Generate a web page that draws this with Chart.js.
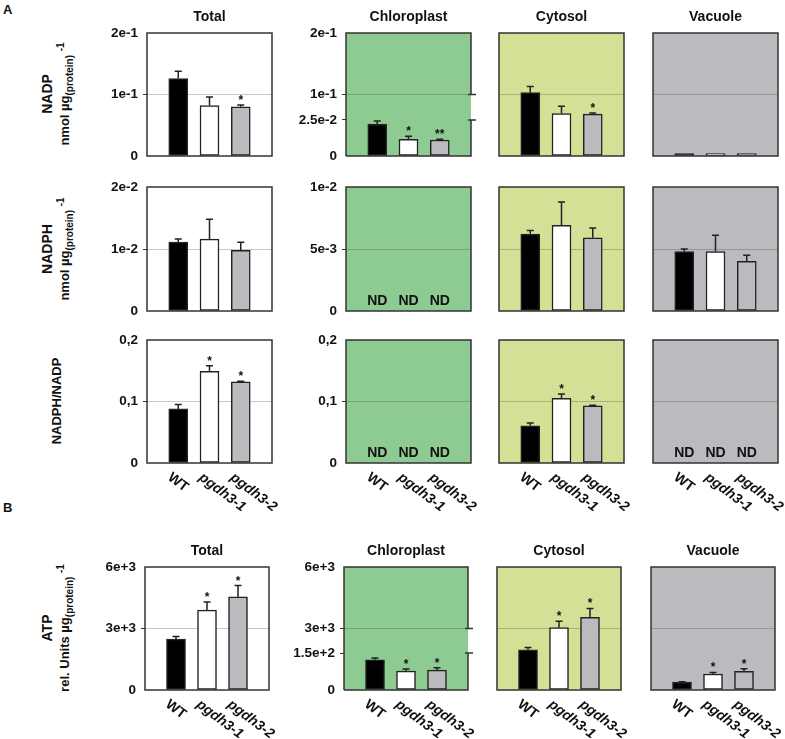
<!DOCTYPE html>
<html>
<head>
<meta charset="utf-8">
<script src="https://cdn.jsdelivr.net/npm/chart.js@4.4.1/dist/chart.umd.min.js"></script>
<style>
  body { margin: 0; background: #fff; font-family: "Liberation Sans", Arial, sans-serif; }
  #fig { position: relative; width: 785px; height: 739px; overflow: hidden; }
  #fig canvas { position: absolute; }
  .letter { position: absolute; font-weight: bold; font-size: 13px; color: #111; }
  .ylab { position: absolute; width: 170px; text-align: center; transform: rotate(-90deg);
          font-weight: bold; font-size: 13px; line-height: 18px; color: #111; white-space: nowrap; }
  .ylab .big { font-size: 14px; }
  .ylab sub, .ylab sup { font-size: 10px; line-height: 0; }
</style>
</head>
<body>
<div id="fig">
  <div class="letter" style="left:3px;top:2px">A</div>
  <div class="letter" style="left:3px;top:500px">B</div>

  <div class="ylab" style="left:-29px;top:76px;height:36px">
    <div class="big">NADP</div>
    <div>nmol µg<sub>(protein)</sub> <sup>-1</sup></div>
  </div>
  <div class="ylab" style="left:-29px;top:231px;height:36px">
    <div class="big">NADPH</div>
    <div>nmol µg<sub>(protein)</sub> <sup>-1</sup></div>
  </div>
  <div class="ylab" style="left:-28px;top:392px;height:18px">
    <div>NADPH/NADP</div>
  </div>
  <div class="ylab" style="left:-29px;top:610px;height:36px">
    <div class="big">ATP</div>
    <div>rel. Units µg<sub>(protein)</sub> <sup>-1</sup></div>
  </div>
</div>

<script>
// ------------------- DATA -------------------
const genotypes = ['WT', 'pgdh3-1', 'pgdh3-2'];
const compartments = ['Total', 'Chloroplast', 'Cytosol', 'Vacuole'];

// NADP, nmol per µg protein (mean, SD, significance)
const nadpTotal = [0.126, 0.082, 0.080];
const nadpTotalSd = [0.012, 0.014, 0.003];
const nadpTotalSig = ['', '', '*'];
const nadpChloro = [0.0222, 0.0116, 0.0111];
const nadpChloroSd = [0.0021, 0.0021, 0.0005];
const nadpChloroSig = ['', '*', '**'];
const nadpCyto = [0.103, 0.069, 0.068];
const nadpCytoSd = [0.010, 0.012, 0.002];
const nadpCytoSig = ['', '', '*'];
const nadpVac = [0.004, 0.004, 0.004];
const nadpVacSd = [0, 0, 0];

// NADPH, nmol per µg protein
const nadphTotal = [0.0111, 0.0116, 0.0098];
const nadphTotalSd = [0.0005, 0.0032, 0.0013];
const nadphChloro = [null, null, null]; // ND
const nadphCyto = [0.0062, 0.0069, 0.0059];
const nadphCytoSd = [0.0003, 0.0019, 0.0008];
const nadphVac = [0.0048, 0.0048, 0.0040];
const nadphVacSd = [0.0002, 0.0013, 0.0005];

// NADPH/NADP ratio
const ratioTotal = [0.088, 0.149, 0.132];
const ratioTotalSd = [0.007, 0.009, 0.001];
const ratioChloro = [null, null, null]; // ND
const ratioCyto = [0.0605, 0.105, 0.093];
const ratioCytoSd = [0.0045, 0.007, 0.001];
const ratioVac = [null, null, null]; // ND
const ratioSig = ['', '*', '*'];

// ATP, rel. units per µg protein
const atpTotal = [2480, 3900, 4540];
const atpTotalSd = [125, 390, 555];
const atpChloro = [123, 77, 81];
const atpChloroSd = [7, 8, 9];
const atpCyto = [1960, 3040, 3545];
const atpCytoSd = [110, 310, 435];
const atpVac = [390, 780, 905];
const atpVacSd = [15, 75, 130];
const atpSig = ['', '*', '*'];

// y ticks
const nadpTicks = [0, 0.1, 0.2];
const nadpTickLabels = ['0', '1e-1', '2e-1'];
const nadpChloroTicks = [0, 0.025, 0.1, 0.2];
const nadpChloroTickLabels = ['0', '2.5e-2', '1e-1', '2e-1'];
const nadphTotalTicks = [0, 0.01, 0.02];
const nadphTotalTickLabels = ['0', '1e-2', '2e-2'];
const nadphTicks = [0, 0.005, 0.01];
const nadphTickLabels = ['0', '5e-3', '1e-2'];
const ratioTicks = [0, 0.1, 0.2];
const ratioTickLabels = ['0', '0,1', '0,2'];
const atpTicks = [0, 3000, 6000];
const atpTickLabels = ['0', '3e+3', '6e+3'];
const atpChloroTicks = [0, 150, 3000, 6000];
const atpChloroTickLabels = ['0', '1.5e+2', '3e+3', '6e+3'];

// ------------------- LAYOUT / STYLE -------------------
const PADL = 62, PADT = 30, PADR = 24, PADB = 60;
const rowTop = [33, 187, 340, 567];
const rowH = [123, 124, 123, 123];
const colLeft = [[147, 346, 499, 653], [147, 346, 499, 653], [147, 346, 499, 653], [145, 344, 497, 651]];
const colW = [125, 125, 125, 124];
const panelBg = ['#ffffff', '#8dcb93', '#d6df96', '#b9bbbe'];
const barColors = ['#000000', '#ffffff', '#b9bbbe'];
const gridColor = 'rgba(70,70,70,0.3)';
const frameColor = '#333';
const FONT = '"Liberation Sans", Arial, sans-serif';

Chart.defaults.font.family = FONT;

// piecewise linear scale for the broken chloroplast axes
class BrokenScale extends Chart.LinearScale {
    getPixelForValue(value) {
        const v = this.breakValues, f = this.breakFrac;
        if (!v) return super.getPixelForValue(value);
        let frac = 0;
        for (let i = 1; i < v.length; i++) {
            if (value <= v[i] || i === v.length - 1) {
                frac = f[i - 1] + (value - v[i - 1]) / (v[i] - v[i - 1]) * (f[i] - f[i - 1]);
                break;
            }
        }
        return this.bottom - frac * (this.bottom - this.top);
    }
}
BrokenScale.id = 'broken';
BrokenScale.defaults = Chart.LinearScale.defaults;
Chart.register(BrokenScale);

const panels = [
    { row: 0, col: 0, values: nadpTotal, sd: nadpTotalSd, sig: nadpTotalSig, ticks: nadpTicks, labels: nadpTickLabels },
    { row: 0, col: 1, values: nadpChloro, sd: nadpChloroSd, sig: nadpChloroSig, ticks: nadpChloroTicks, labels: nadpChloroTickLabels, breakFrac: [0, 0.293, 0.5, 1] },
    { row: 0, col: 2, values: nadpCyto, sd: nadpCytoSd, sig: nadpCytoSig, ticks: nadpTicks },
    { row: 0, col: 3, values: nadpVac, sd: nadpVacSd, ticks: nadpTicks },

    { row: 1, col: 0, values: nadphTotal, sd: nadphTotalSd, ticks: nadphTotalTicks, labels: nadphTotalTickLabels },
    { row: 1, col: 1, values: nadphChloro, ticks: nadphTicks, labels: nadphTickLabels },
    { row: 1, col: 2, values: nadphCyto, sd: nadphCytoSd, ticks: nadphTicks },
    { row: 1, col: 3, values: nadphVac, sd: nadphVacSd, ticks: nadphTicks },

    { row: 2, col: 0, values: ratioTotal, sd: ratioTotalSd, sig: ratioSig, ticks: ratioTicks, labels: ratioTickLabels },
    { row: 2, col: 1, values: ratioChloro, ticks: ratioTicks, labels: ratioTickLabels },
    { row: 2, col: 2, values: ratioCyto, sd: ratioCytoSd, sig: ratioSig, ticks: ratioTicks },
    { row: 2, col: 3, values: ratioVac, ticks: ratioTicks },

    { row: 3, col: 0, values: atpTotal, sd: atpTotalSd, sig: atpSig, ticks: atpTicks, labels: atpTickLabels },
    { row: 3, col: 1, values: atpChloro, sd: atpChloroSd, sig: atpSig, ticks: atpChloroTicks, labels: atpChloroTickLabels, breakFrac: [0, 0.30, 0.5, 1] },
    { row: 3, col: 2, values: atpCyto, sd: atpCytoSd, sig: atpSig, ticks: atpTicks },
    { row: 3, col: 3, values: atpVac, sd: atpVacSd, sig: atpSig, ticks: atpTicks }
];

// ------------------- DRAWING HELPERS -------------------
function panelPlugin(p) {
    const gridValue = p.breakFrac ? p.ticks[2] : p.ticks[1];
    return {
        id: 'panelDeco',
        beforeDraw(chart) {
            const a = chart.chartArea, ctx = chart.ctx;
            ctx.save();
            ctx.fillStyle = panelBg[p.col];
            ctx.fillRect(a.left, a.top, a.right - a.left, a.bottom - a.top);
            ctx.restore();
        },
        afterDatasetsDraw(chart) {
            const ctx = chart.ctx, a = chart.chartArea;
            const xs = chart.scales.x, ys = chart.scales.y;
            ctx.save();
            p.values.forEach((v, i) => {
                const x = xs.getPixelForValue(i);
                if (v === null) {
                    ctx.fillStyle = '#111';
                    ctx.font = 'bold 14px ' + FONT;
                    ctx.textAlign = 'center';
                    ctx.textBaseline = 'middle';
                    ctx.fillText('ND', x, a.bottom - 10);
                    return;
                }
                const sd = p.sd ? p.sd[i] : 0;
                const y0 = ys.getPixelForValue(v);
                const y1 = ys.getPixelForValue(v + sd);
                if (sd > 0) {
                    ctx.strokeStyle = '#222';
                    ctx.lineWidth = 1.5;
                    ctx.beginPath();
                    ctx.moveTo(x, y0);
                    ctx.lineTo(x, y1);
                    ctx.moveTo(x - 3.5, y1);
                    ctx.lineTo(x + 3.5, y1);
                    ctx.stroke();
                }
                if (p.sig && p.sig[i]) {
                    ctx.fillStyle = '#111';
                    ctx.font = 'bold 12px ' + FONT;
                    ctx.textAlign = 'center';
                    ctx.textBaseline = 'alphabetic';
                    ctx.fillText(p.sig[i], x, y1 - 1);
                }
            });
            ctx.restore();
        },
        afterDraw(chart) {
            const ctx = chart.ctx, a = chart.chartArea;
            const xs = chart.scales.x, ys = chart.scales.y;
            ctx.save();
            // frame
            ctx.strokeStyle = frameColor;
            ctx.lineWidth = 1.5;
            if (!p.breakFrac) {
                ctx.strokeRect(a.left, a.top, a.right - a.left, a.bottom - a.top);
            } else {
                // open right edge between the two break ticks
                const yg = ys.getPixelForValue(gridValue);
                const yb = ys.getPixelForValue(p.ticks[1]);
                ctx.beginPath();
                ctx.moveTo(a.left, a.bottom);
                ctx.lineTo(a.left, a.top);
                ctx.lineTo(a.right, a.top);
                ctx.lineTo(a.right, yg);
                ctx.moveTo(a.right, yb);
                ctx.lineTo(a.right, a.bottom);
                ctx.lineTo(a.left, a.bottom);
                ctx.moveTo(a.right - 3, yg);
                ctx.lineTo(a.right + 5, yg);
                ctx.moveTo(a.right - 3, yb);
                ctx.lineTo(a.right + 5, yb);
                ctx.stroke();
            }
            // column title
            if (p.row === 0 || p.row === 3) {
                ctx.fillStyle = '#111';
                ctx.font = 'bold 14px ' + FONT;
                ctx.textAlign = 'center';
                ctx.textBaseline = 'middle';
                ctx.fillText(compartments[p.col], (a.left + a.right) / 2, a.top - 16);
            }
            // rotated genotype labels
            if (p.row >= 2) {
                genotypes.forEach((g, i) => {
                    const x = xs.getPixelForValue(i);
                    ctx.save();
                    ctx.translate(x - 9, a.bottom + 13);
                    ctx.rotate(37 * Math.PI / 180);
                    ctx.fillStyle = '#111';
                    ctx.font = (i === 0 ? 'bold ' : 'italic bold ') + '14px ' + FONT;
                    ctx.textAlign = 'left';
                    ctx.textBaseline = 'middle';
                    ctx.fillText(g, 0, 0);
                    ctx.restore();
                });
            }
            ctx.restore();
        }
    };
}

function makePanel(p) {
    const fig = document.getElementById('fig');
    const left = colLeft[p.row][p.col], top = rowTop[p.row];
    const w = colW[p.row], h = rowH[p.row];
    const canvas = document.createElement('canvas');
    canvas.width = PADL + w + PADR;
    canvas.height = PADT + h + PADB;
    canvas.style.left = (left - PADL) + 'px';
    canvas.style.top = (top - PADT) + 'px';
    fig.appendChild(canvas);

    const gridValue = p.breakFrac ? p.ticks[2] : p.ticks[1];
    const markValues = p.breakFrac ? [p.ticks[1], p.ticks[2]] : [p.ticks[1]];

    new Chart(canvas, {
        type: 'bar',
        data: {
            datasets: [{
                data: p.values.map((v, i) => ({ x: i, y: v })),
                backgroundColor: barColors,
                borderColor: '#222',
                borderWidth: 1.5,
                borderSkipped: false,
                barThickness: 19
            }]
        },
        options: {
            responsive: false,
            animation: false,
            devicePixelRatio: 1,
            layout: { padding: { top: PADT, right: PADR, bottom: PADB, left: 0 } },
            plugins: { legend: { display: false }, tooltip: { enabled: false } },
            scales: {
                x: { type: 'linear', min: -1, max: 3, offset: false, grid: { offset: false }, display: false },
                y: {
                    type: p.breakFrac ? 'broken' : 'linear',
                    min: 0,
                    max: p.ticks[p.ticks.length - 1],
                    afterDataLimits: s => {
                        if (p.breakFrac) { s.breakValues = p.ticks; s.breakFrac = p.breakFrac; }
                    },
                    afterBuildTicks: s => { s.ticks = p.ticks.map(v => ({ value: v })); },
                    afterFit: s => { s.width = PADL; },
                    border: { display: false },
                    grid: {
                        color: c => (c.tick && c.tick.value === gridValue) ? gridColor : 'transparent',
                        tickColor: c => (p.labels && c.tick && markValues.includes(c.tick.value)) ? '#333' : 'transparent',
                        tickLength: 4,
                        lineWidth: 1
                    },
                    ticks: {
                        display: !!p.labels,
                        autoSkip: false,
                        padding: 5,
                        color: '#111',
                        font: { size: 13.5, weight: 'bold' },
                        callback: (v, i) => p.labels ? p.labels[i] : ''
                    }
                }
            }
        },
        plugins: [panelPlugin(p)]
    });
}

panels.forEach(makePanel);
</script>
</body>
</html>
